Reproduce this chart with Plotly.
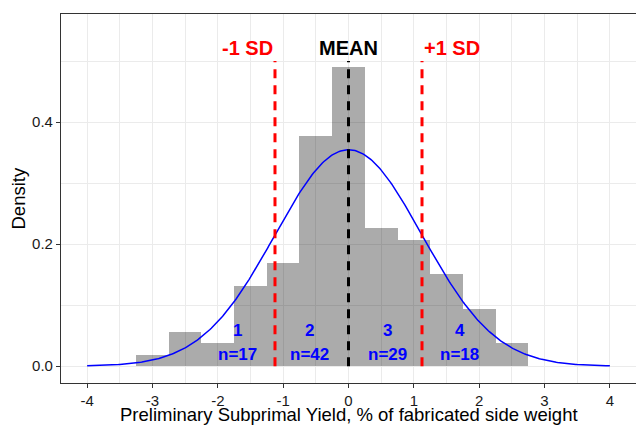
import numpy as np
import plotly.graph_objects as go

# ---- data ----
bin_left = [-3.25, -2.75, -2.25, -1.75, -1.25, -0.75, -0.25, 0.25, 0.75, 1.25, 1.75, 2.25]
bin_width = 0.5
bin_counts = [1, 3, 2, 7, 9, 20, 26, 12, 11, 8, 5, 2]
mean_val = 0.0
sd_val = 1.125
curve_from, curve_to = -4, 4
group_names = ["1", "2", "3", "4"]
group_n = ["n=17", "n=42", "n=29", "n=18"]
group_x = [-1.7, -0.6, 0.6, 1.7]
x_ticks = [-4, -3, -2, -1, 0, 1, 2, 3, 4]
y_ticks = [0.0, 0.2, 0.4]
y_ticklabels = ["0.0", "0.2", "0.4"]
x_title = "Preliminary Subprimal Yield, % of fabricated side weight"
y_title = "Density"

total = sum(bin_counts)
density = [c / (total * bin_width) for c in bin_counts]
centers = [b + bin_width / 2 for b in bin_left]

xc = np.linspace(curve_from, curve_to, 401)
yc = np.exp(-0.5 * ((xc - mean_val) / sd_val) ** 2) / (sd_val * np.sqrt(2 * np.pi))

FONT = "Liberation Sans, Arial, sans-serif"

fig = go.Figure()
fig.add_trace(go.Bar(x=centers, y=density, width=[bin_width] * len(centers),
                     marker=dict(color="rgba(0,0,0,0.33)", line=dict(width=0)),
                     hoverinfo="skip"))
fig.add_trace(go.Scatter(x=xc, y=yc, mode="lines", line=dict(color="#0000ff", width=1.5)))

line_top = 0.5
for xv, col in [(mean_val - sd_val, "#ff0000"), (mean_val, "#000000"), (mean_val + sd_val, "#ff0000")]:
    fig.add_trace(go.Scatter(x=[xv, xv], y=[0, line_top], mode="lines",
                             line=dict(color=col, width=3, dash="9px,7px")))

lab_y = 0.521
fig.add_annotation(x=mean_val, y=lab_y, text="<b>MEAN</b>", showarrow=False,
                   font=dict(size=20, color="#000000", family=FONT), xanchor="center", yanchor="middle")
fig.add_annotation(x=mean_val - sd_val, y=lab_y, text="<b>-1 SD</b>", showarrow=False,
                   font=dict(size=20, color="#ff0000", family=FONT), xanchor="right", yanchor="middle")
fig.add_annotation(x=mean_val + sd_val, y=lab_y, text="<b>+1 SD</b>", showarrow=False,
                   font=dict(size=20, color="#ff0000", family=FONT), xanchor="left", yanchor="middle")

for gx, gname, gn in zip(group_x, group_names, group_n):
    fig.add_annotation(x=gx, y=0.059, text="<b>%s</b>" % gname, showarrow=False,
                       font=dict(size=17, color="#0000ff", family=FONT), xanchor="center", yanchor="middle")
    fig.add_annotation(x=gx, y=0.0187, text="<b>%s</b>" % gn, showarrow=False,
                       font=dict(size=17, color="#0000ff", family=FONT), xanchor="center", yanchor="middle")

# axis titles as paper-anchored text
fig.add_annotation(xref="paper", yref="paper", x=0.5, y=0, yshift=-31, text=x_title,
                   showarrow=False, xanchor="center", yanchor="middle",
                   font=dict(size=18.5, color="#000000", family=FONT))
fig.add_annotation(xref="paper", yref="paper", x=0, y=0.5, xshift=-43, text=y_title, textangle=-90,
                   showarrow=False, xanchor="center", yanchor="middle",
                   font=dict(size=18.5, color="#000000", family=FONT))

axis_common = dict(showline=True, mirror=True, linecolor="#333333", linewidth=1.1,
                   ticks="outside", ticklen=4, tickcolor="#333333", tickwidth=1.1,
                   showgrid=True, gridcolor="#ebebeb", gridwidth=1.1, zeroline=False,
                   tickfont=dict(size=15, color="#1a1a1a", family=FONT), automargin=False)

fig.update_xaxes(range=[-4.4, 4.4], tickvals=x_ticks, ticktext=[str(t) for t in x_ticks],
                 minor=dict(showgrid=True, gridcolor="#ebebeb", gridwidth=0.6,
                            tickvals=[t + 0.5 for t in x_ticks[:-1]] + [-4.5]),
                 **axis_common)
fig.update_yaxes(range=[-0.0275, 0.577], tickvals=y_ticks, ticktext=y_ticklabels,
                 minor=dict(showgrid=True, gridcolor="#ebebeb", gridwidth=0.6, tickvals=[0.1, 0.3, 0.5]),
                 **axis_common)

fig.update_layout(width=636, height=426, margin=dict(l=61, r=0, t=14, b=43, autoexpand=False),
                  paper_bgcolor="white", plot_bgcolor="white", showlegend=False, bargap=0,
                  font=dict(family=FONT))

fig.write_html("out.html")
